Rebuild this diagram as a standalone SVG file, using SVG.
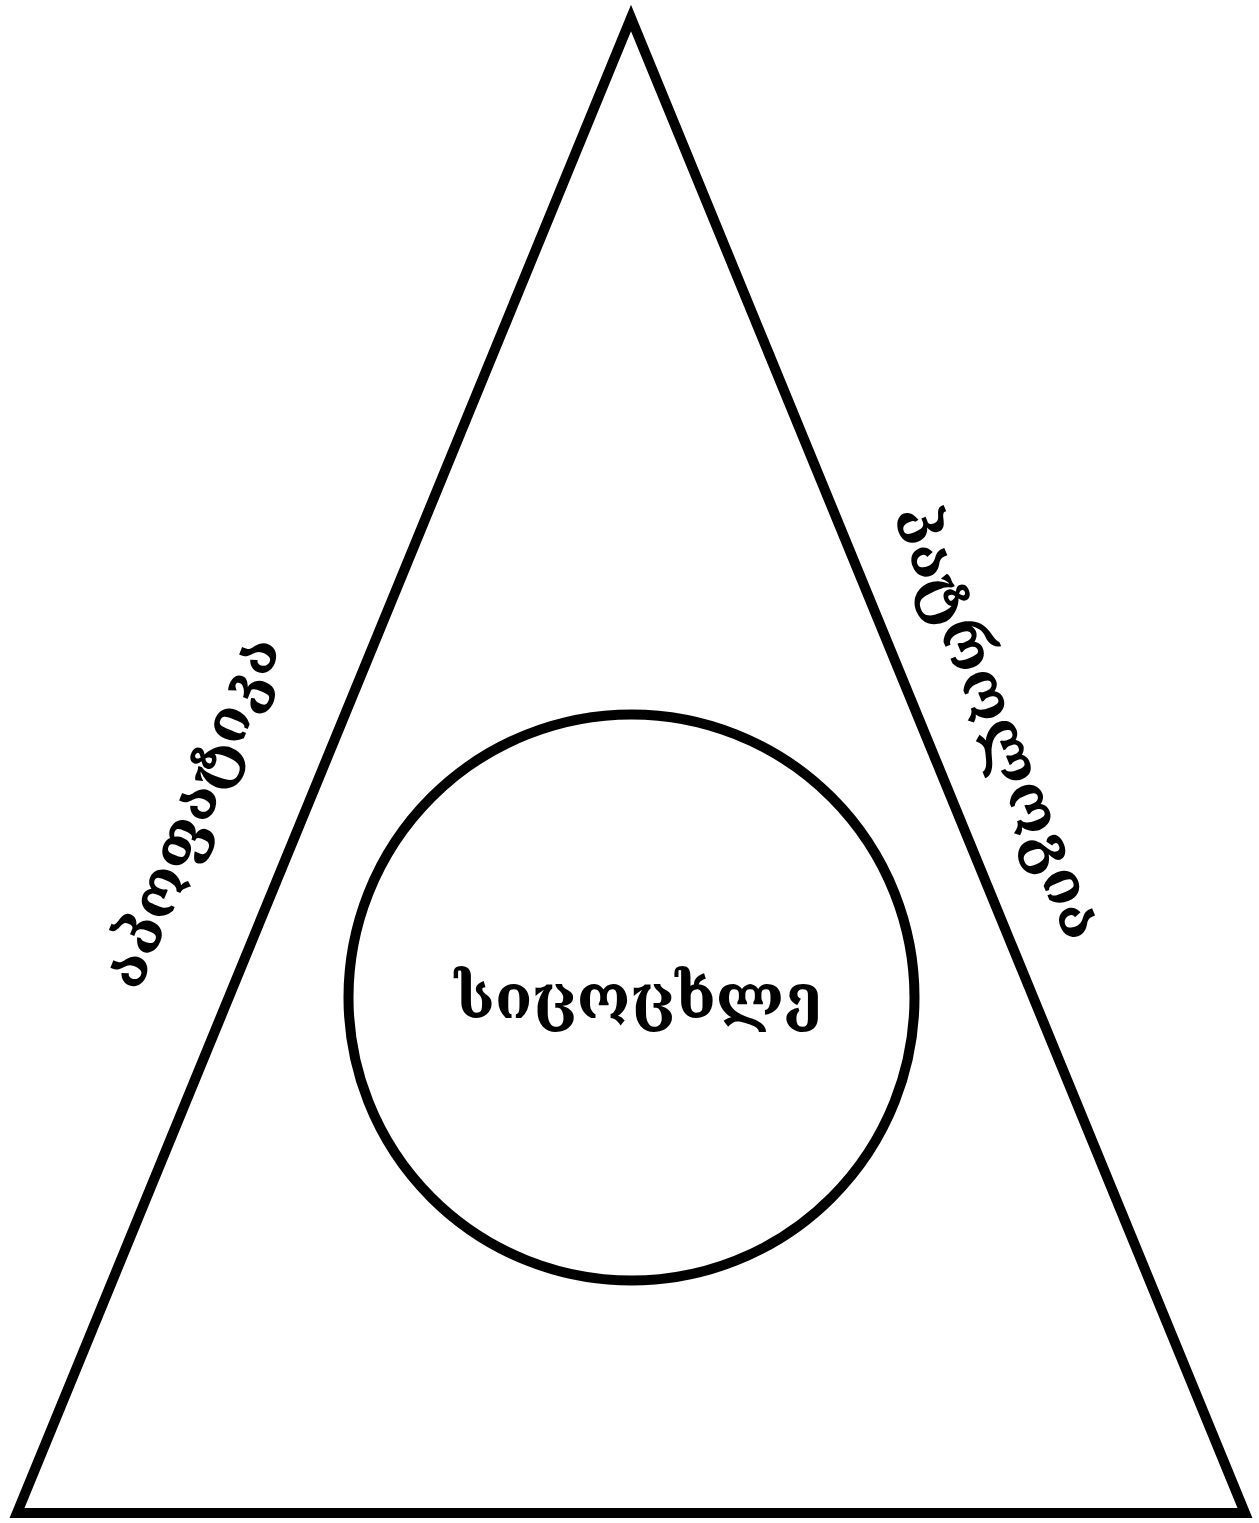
<svg xmlns="http://www.w3.org/2000/svg" width="1259" height="1523" viewBox="0 0 1259 1523">
<style>
.shape{fill:none;stroke:#000;stroke-width:10;stroke-linejoin:miter;stroke-miterlimit:10}
.lbl{font-family:"DejaVu Serif",serif;font-size:61px;font-weight:bold;fill:#000;text-anchor:middle}
</style>
<rect width="1259" height="1523" fill="#fff"/>
<g id="triangle"><polygon class="shape" points="631,18 17,1513 1245,1513"/></g>
<g id="circle"><circle class="shape" cx="631.5" cy="997.5" r="283"/></g>
<g id="center-label"><text class="lbl" x="638" y="1018">სიცოცხლე</text></g>
<g id="left-label"><text class="lbl" x="192" y="832" transform="rotate(-67.7 192 812)">აპოფატიკა</text></g>
<g id="right-label"><text class="lbl" x="998" y="742" transform="rotate(67.7 998 722)">პატროლოგია</text></g>
<g id="connectors"></g>
</svg>
